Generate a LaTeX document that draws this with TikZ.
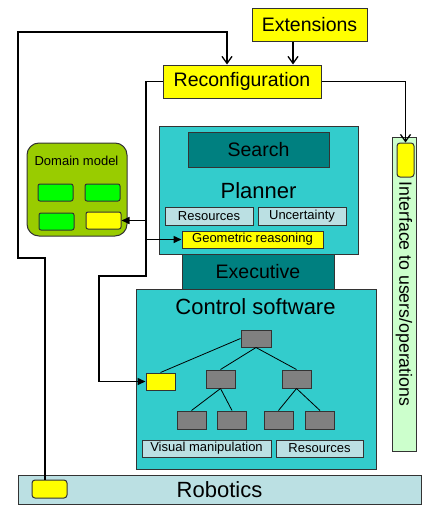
\documentclass[tikz,border=0pt]{standalone}
\usepackage{fontspec}
\setmainfont{Liberation Sans}
\usetikzlibrary{arrows.meta,calc}
\definecolor{cyanbox}{HTML}{33CCCC}
\definecolor{tealbox}{HTML}{008080}
\definecolor{lightbox}{HTML}{BBE0E3}
\definecolor{ifgreen}{HTML}{CCFFCC}
\definecolor{olive}{HTML}{99CC00}
\definecolor{brightgreen}{HTML}{00FF00}
\definecolor{ybox}{HTML}{FFFF00}
\definecolor{graybox}{HTML}{808080}
\newcommand{\fsmall}{\fontsize{13}{15}\selectfont}
\newcommand{\fmid}{\fontsize{19.5}{22}\selectfont}
\newcommand{\fbig}{\fontsize{22}{25}\selectfont}
\tikzset{
  bx/.style={draw=black!80, line width=1pt, inner sep=0pt, anchor=center},
  conn/.style={draw=black, line width=1.5pt},
  barb/.style={-{Straight Barb[length=7pt,width=10pt,line width=1.3pt]}},
  tri/.style={-{Triangle[length=8pt,width=7pt]}},
  treeline/.style={draw=black, line width=0.8pt},
}
\begin{document}
\begin{tikzpicture}[x=1pt,y=-1pt]
\useasboundingbox (0,0) rectangle (431,514);
% top boxes
\node[bx, fill=ybox, minimum width=115, minimum height=33, font=\fmid] (ext) at (309.5,24.5) {Extensions};
\node[bx, fill=ybox, minimum width=158, minimum height=33, font=\fmid] (reconf) at (242,81.5) {Reconfiguration};
% planner
\node[bx, fill=cyanbox, minimum width=199, minimum height=128] (planner) at (258.5,190) {};
\node[bx, fill=tealbox, minimum width=141, minimum height=35, font=\fmid] (search) at (258.5,149.5) {Search};
\node[inner sep=0pt, font=\fbig] (plabel) at (258.5,191) {Planner};
\node[bx, fill=lightbox, minimum width=88, minimum height=18, font=\fsmall] (pres) at (209,216) {Resources};
\node[bx, fill=lightbox, minimum width=88, minimum height=18, font=\fsmall] (unc) at (302,216) {Uncertainty};
\node[bx, fill=ybox, minimum width=141, minimum height=17, font=\fsmall] (geo) at (252.5,239.5) {Geometric reasoning};
% executive
\node[bx, fill=tealbox, minimum width=152, minimum height=35, font=\fmid] (exec) at (258,271.5) {Executive};
% control software
\node[bx, fill=cyanbox, minimum width=240, minimum height=180] (ctrl) at (256,379) {};
\node[inner sep=0pt, font=\fbig] (clabel) at (255.5,307) {Control software};
\node[bx, fill=graybox, minimum width=30, minimum height=17] (root) at (256,338.5) {};
\node[bx, fill=ybox, minimum width=29, minimum height=17] (cyel) at (160.5,381.5) {};
\node[bx, fill=graybox, minimum width=29, minimum height=18] (g1) at (220.5,379) {};
\node[bx, fill=graybox, minimum width=29, minimum height=18] (g2) at (296.5,379) {};
\node[bx, fill=graybox, minimum width=29, minimum height=18] (l1) at (191.5,420) {};
\node[bx, fill=graybox, minimum width=29, minimum height=18] (l2) at (232,420) {};
\node[bx, fill=graybox, minimum width=29, minimum height=18] (l3) at (278.5,420) {};
\node[bx, fill=graybox, minimum width=29, minimum height=18] (l4) at (320,420) {};
\draw[treeline] (root.west) -- (cyel.north);
\draw[treeline] (root.south) -- (g1.north);
\draw[treeline] (root.south) -- (g2.north);
\draw[treeline] (g1.south) -- (l1.north);
\draw[treeline] (g1.south) -- (l2.north);
\draw[treeline] (g2.south) -- (l3.north);
\draw[treeline] (g2.south) -- (l4.north);
\node[bx, fill=lightbox, minimum width=129, minimum height=17, font=\fsmall] (vis) at (206.5,448.5) {Visual manipulation};
\node[bx, fill=lightbox, minimum width=87, minimum height=17, font=\fsmall] (cres) at (319.5,448.5) {Resources};
% robotics
\node[bx, fill=lightbox, minimum width=403, minimum height=29, font=\fbig] (robot) at (219.5,489.5) {Robotics};
\node[bx, fill=ybox, rounded corners=3pt, minimum width=35, minimum height=18] (ryel) at (49.5,489) {};
% interface
\node[bx, fill=ifgreen, minimum width=24, minimum height=314] (iface) at (404,294) {};
\node[inner sep=0pt, rotate=-90, font=\fontsize{17.7}{20}\selectfont] (ilabel) at (404,294) {Interface to users/operations};
\node[bx, fill=ybox, rounded corners=3pt, minimum width=17, minimum height=34] (iyel) at (405.5,160) {};
% domain model
\node[bx, fill=olive, rounded corners=12pt, minimum width=100, minimum height=93] (dom) at (77,189.5) {};
\node[inner sep=0pt, font=\fsmall] (dlabel) at (76.5,161) {Domain model};
\node[bx, fill=brightgreen, rounded corners=2pt, minimum width=35, minimum height=17] (dg1) at (55.5,192.5) {};
\node[bx, fill=brightgreen, rounded corners=2pt, minimum width=35, minimum height=17] (dg2) at (102.5,192.5) {};
\node[bx, fill=brightgreen, rounded corners=2pt, minimum width=35, minimum height=17] (dg3) at (56.5,221.5) {};
\node[bx, fill=ybox, rounded corners=2pt, minimum width=35, minimum height=17] (dyel) at (103.5,220.5) {};
% connectors
\coordinate (vl) at (146,0);
\coordinate (ll) at (99,276);
\draw[conn,barb] ([xshift=-16.5pt]ext.south) -- ([xshift=-16.5pt]ext.south |- reconf.north);
\draw[conn,barb] ([xshift=-4.5pt]ryel.north) |- (18,258) -- (18,32) -| ([xshift=-15pt]reconf.north);
\draw[conn,barb] (reconf.east) -| (iyel.north);
\draw[conn,tri] (reconf.west) -| (vl |- ll) -- (ll) |- (cyel.west);
\draw[conn,tri] (dyel.east -| vl) -- (dyel.east);
\draw[conn,tri] (geo.west -| vl) -- (geo.west);
\end{tikzpicture}
\end{document}
